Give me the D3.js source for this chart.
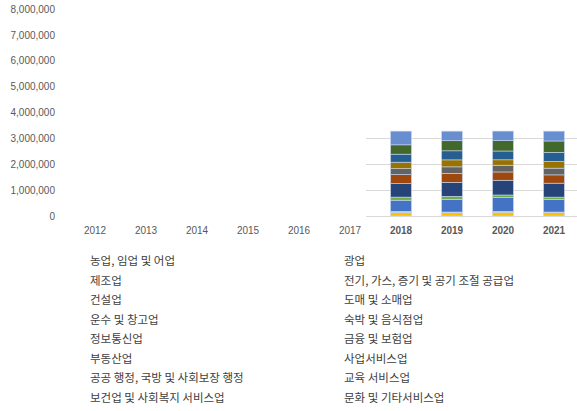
<!DOCTYPE html>
<html>
<head>
<meta charset="utf-8">
<script src="https://cdn.jsdelivr.net/npm/d3@7"></script>
<style>
  body { margin: 0; background: #fff; }
  svg { display: block; }
</style>
</head>
<body>
<svg id="chart" width="577" height="411"></svg>
<script>
// categories
const years = ['2012', '2013', '2014', '2015', '2016', '2017', '2018', '2019', '2020', '2021'];
const yTicks = [0, 1000000, 2000000, 3000000, 4000000, 5000000, 6000000, 7000000, 8000000];
const gridTicks = [0, 1000000, 2000000, 3000000];

const industries = [
  '농업, 임업 및 어업', '광업', '제조업', '전기, 가스, 증기 및 공기 조절 공급업',
  '건설업', '도매 및 소매업', '운수 및 창고업', '숙박 및 음식점업',
  '정보통신업', '금융 및 보험업', '부동산업', '사업서비스업',
  '공공 행정, 국방 및 사회보장 행정', '교육 서비스업', '보건업 및 사회복지 서비스업', '문화 및 기타서비스업'
];

// values per industry, 2012..2021 (null = no data)
const agriculture   = [null, null, null, null, null, null, 135000, 127000, 147000, 143000];
const mining        = [null, null, null, null, null, null, 45000, 27000, 35000, 11000];
const manufacturing = [null, null, null, null, null, null, 430000, 490000, 530000, 490000];
const utilities     = [null, null, null, null, null, null, 120000, 115000, 100000, 85000];
const construction  = [null, null, null, null, null, null, 520000, 540000, 570000, 540000];
const wholesale     = [null, null, null, null, null, null, 350000, 350000, 320000, 320000];
const transport     = [null, null, null, null, null, null, 230000, 250000, 260000, 260000];
const lodging       = [null, null, null, null, null, null, 250000, 270000, 210000, 260000];
const infoComm      = [null, null, null, null, null, null, 310000, 350000, 340000, 350000];
const finance       = [null, null, null, null, null, null, 360000, 390000, 400000, 440000];
const realEstate    = [null, null, null, null, null, null, 530000, 370000, 370000, 380000];
const business      = [null, null, null, null, null, null, null, null, null, null];
const publicAdmin   = [null, null, null, null, null, null, null, null, null, null];
const education     = [null, null, null, null, null, null, null, null, null, null];
const health        = [null, null, null, null, null, null, null, null, null, null];
const culture       = [null, null, null, null, null, null, null, null, null, null];

const seriesValues = [agriculture, mining, manufacturing, utilities, construction, wholesale,
  transport, lodging, infoComm, finance, realEstate, business, publicAdmin, education, health, culture];

const colors = ['#FFC000', '#9DC3E6', '#4472C4', '#70AD47', '#264478', '#9E480E',
  '#636363', '#997300', '#255E91', '#43682B', '#698ED0', '#F1975A',
  '#B7B7B7', '#FFCD33', '#5B9BD5', '#A5A5A5'];

const svg = d3.select('#chart');

const x = d3.scaleBand()
  .domain(years)
  .range([69.5, 579.5])
  .paddingInner(0.59)
  .paddingOuter(0.295);

const y = d3.scaleLinear()
  .domain([0, 8000000])
  .range([216, 9]);

// table for stacking
const table = years.map((yr, i) => {
  const row = { year: yr };
  industries.forEach((name, k) => { row[name] = seriesValues[k][i] || 0; });
  return row;
});

const stacked = d3.stack().keys(industries)(table);

// gridlines (only drawn on the right part, like the reference)
const gridX0 = 366;
svg.append('g')
  .selectAll('line')
  .data(gridTicks)
  .join('line')
  .attr('x1', gridX0)
  .attr('x2', 577)
  .attr('y1', d => Math.round(y(d)) + 0.5)
  .attr('y2', d => Math.round(y(d)) + 0.5)
  .attr('stroke', '#d9d9d9')
  .attr('stroke-width', 1);

// bars
svg.append('g')
  .selectAll('g')
  .data(stacked)
  .join('g')
  .attr('fill', (d, i) => colors[i])
  .selectAll('rect')
  .data(d => d.filter(s => s[1] - s[0] > 0))
  .join('rect')
  .attr('x', d => x(d.data.year))
  .attr('width', x.bandwidth())
  .attr('y', d => y(d[1]))
  .attr('height', d => y(d[0]) - y(d[1]))
  .attr('stroke', '#c9d6ee')
  .attr('stroke-width', 0.6);

// y axis labels
const yAxis = svg.append('g')
  .attr('transform', 'translate(58,0)')
  .call(d3.axisLeft(y).tickValues(yTicks).tickFormat(d3.format(',')).tickSize(0).tickPadding(3));
yAxis.select('.domain').remove();
yAxis.selectAll('text')
  .attr('fill', '#595959')
  .attr('font-family', 'Liberation Sans, Arial, sans-serif')
  .attr('font-size', '10px');

// x axis labels
svg.append('g')
  .selectAll('text')
  .data(years)
  .join('text')
  .attr('x', d => x(d) + x.bandwidth() / 2)
  .attr('y', 230)
  .attr('dy', '0.35em')
  .attr('text-anchor', 'middle')
  .attr('fill', '#595959')
  .attr('font-family', 'Liberation Sans, Arial, sans-serif')
  .attr('font-size', '10px')
  .attr('font-weight', (d, i) => seriesValues.some(s => s[i] != null) ? 'bold' : 'normal')
  .text(d => d);

// legend, two columns, no swatches
const legendX = [90, 344];
const legendY0 = 261;
const legendStep = 19.5;
svg.append('g')
  .selectAll('text')
  .data(industries)
  .join('text')
  .attr('x', (d, i) => legendX[i % 2])
  .attr('y', (d, i) => legendY0 + Math.floor(i / 2) * legendStep)
  .attr('dy', '0.35em')
  .attr('fill', '#404040')
  .attr('font-family', '"Noto Sans CJK KR", sans-serif')
  .attr('font-size', '11.5px')
  .text(d => d);
</script>
</body>
</html>
